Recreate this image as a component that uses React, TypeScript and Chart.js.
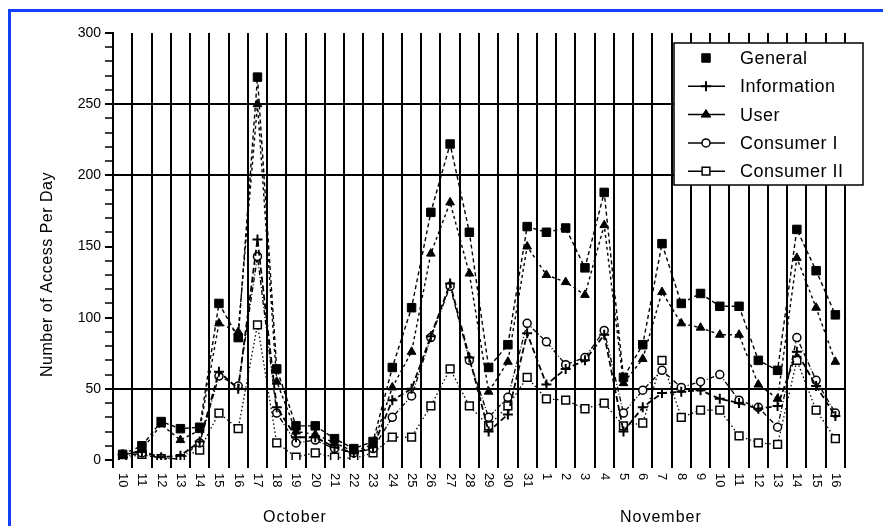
import React, { useEffect, useRef } from 'react';
import { Chart, registerables } from 'chart.js';

Chart.register(...registerables);

// ---------- data ----------
const octoberDays = ['10','11','12','13','14','15','16','17','18','19','20','21','22','23','24','25','26','27','28','29','30','31'];
const novemberDays = ['1','2','3','4','5','6','7','8','9','10','11','12','13','14','15','16'];
const categories = [...octoberDays, ...novemberDays];
const monthNames = ['October', 'November'];

const generalValues = [4,10,27,22,23,110,86,269,64,24,24,15,8,13,65,107,174,222,160,65,81,164, 160,163,135,188,58,81,152,110,117,108,108,70,63,162,133,102];
const informationValues = [4,6,2,3,13,62,50,155,37,16,16,9,5,9,42,50,87,124,72,20,32,89, 53,64,70,88,20,37,47,48,49,43,40,36,38,76,52,31];
const userValues = [3,7,25,14,21,96,90,250,55,20,18,12,6,11,51,76,145,181,131,48,69,150, 130,125,116,165,54,71,118,96,93,88,88,53,43,142,107,69];
const consumerIValues = [2,5,1,1,12,59,52,143,33,12,14,8,5,8,30,45,86,122,70,30,44,96, 83,67,72,91,33,49,63,51,55,60,42,37,23,86,56,33];
const consumerIIValues = [1,4,1,1,7,33,22,95,12,2,5,2,1,5,16,16,38,64,38,24,38,58, 43,42,36,40,24,26,70,30,35,35,17,12,11,70,35,15];

const seriesLabels = ['General', 'Information', 'User', 'Consumer I', 'Consumer II'];
const yTickLabels = [0, 50, 100, 150, 200, 250, 300];
const yMin = 0;
const yMax = 300;
const yMinorStep = 10;
const horizontalGridValues = [50, 200, 250];

const FONT = "'Liberation Sans', Arial, Helvetica, sans-serif";

type Marker = { style: string; radius: number; fill: string; width: number };

function drawMarker(ctx: CanvasRenderingContext2D, m: Marker, x: number, y: number) {
  ctx.save();
  ctx.setLineDash([]);
  ctx.strokeStyle = '#000';
  ctx.lineWidth = m.width;
  ctx.fillStyle = m.fill;
  ctx.beginPath();
  const r = m.radius;
  if (m.style === 'rect') {
    const s = r * Math.SQRT1_2;
    ctx.rect(x - s, y - s, 2 * s, 2 * s);
    ctx.fill();
    ctx.stroke();
  } else if (m.style === 'circle') {
    ctx.arc(x, y, r, 0, Math.PI * 2);
    ctx.fill();
    ctx.stroke();
  } else if (m.style === 'triangle') {
    const h = r * 1.5;
    ctx.moveTo(x, y - r);
    ctx.lineTo(x + r * 0.95, y + h - r);
    ctx.lineTo(x - r * 0.95, y + h - r);
    ctx.closePath();
    ctx.fill();
    ctx.stroke();
  } else if (m.style === 'cross') {
    ctx.moveTo(x - r, y);
    ctx.lineTo(x + r, y);
    ctx.moveTo(x, y - r);
    ctx.lineTo(x, y + r);
    ctx.stroke();
  }
  ctx.restore();
}

const decorPlugin = {
  id: 'decor',
  afterDraw(chart: any) {
    const { ctx, chartArea } = chart;
    const xs = chart.scales.x;
    ctx.save();
    ctx.fillStyle = '#000';

    // x tick labels, rotated to read top-to-bottom
    ctx.font = `13px ${FONT}`;
    ctx.textAlign = 'left';
    ctx.textBaseline = 'middle';
    categories.forEach((lab, i) => {
      const x = xs.getPixelForValue(i);
      ctx.save();
      ctx.translate(x, chartArea.bottom + 13);
      ctx.rotate(Math.PI / 2);
      ctx.fillText(lab, 0, 0);
      ctx.restore();
    });

    // month group labels
    const groups = [octoberDays, novemberDays];
    let start = 0;
    ctx.font = `16px ${FONT}`;
    (ctx as any).letterSpacing = '1px';
    ctx.textAlign = 'center';
    groups.forEach((g, gi) => {
      const a = xs.getPixelForValue(start);
      const b = xs.getPixelForValue(start + g.length - 1);
      ctx.fillText(monthNames[gi], (a + b) / 2 - 30, chartArea.bottom + 58);
      start += g.length;
    });

    // y axis title
    ctx.save();
    (ctx as any).letterSpacing = '0.5px';
    ctx.font = `16px ${FONT}`;
    ctx.translate(48, (chartArea.top + chartArea.bottom) / 2 + 28);
    ctx.rotate(-Math.PI / 2);
    ctx.textAlign = 'center';
    ctx.fillText('Number of Access Per Day', 0, 0);
    ctx.restore();

    // legend box
    const boxL = chartArea.right - 171;
    const boxT = chartArea.top + 10;
    const boxW = 189;
    const boxH = 142;
    ctx.fillStyle = '#fff';
    ctx.fillRect(boxL, boxT, boxW, boxH);
    ctx.strokeStyle = '#000';
    ctx.lineWidth = 1.5;
    ctx.setLineDash([]);
    ctx.strokeRect(boxL, boxT, boxW, boxH);

    ctx.font = `18px ${FONT}`;
    (ctx as any).letterSpacing = '0.5px';
    ctx.textAlign = 'left';
    ctx.textBaseline = 'middle';
    chart.data.datasets.forEach((ds: any, k: number) => {
      const y = boxT + 15 + k * 28.3;
      if (ds.legendLine) {
        ctx.beginPath();
        ctx.strokeStyle = '#000';
        ctx.lineWidth = 1.5;
        ctx.moveTo(boxL + 14, y);
        ctx.lineTo(boxL + 51, y);
        ctx.stroke();
      }
      drawMarker(ctx, { style: ds.pointStyle, radius: ds.pointRadius, fill: ds.pointBackgroundColor, width: ds.pointBorderWidth }, boxL + 32, y);
      ctx.fillStyle = '#000';
      ctx.fillText(ds.label, boxL + 66, y + 1);
    });

    ctx.restore();
  },
};

export default function App() {
  const canvasRef = useRef<HTMLCanvasElement | null>(null);

  useEffect(() => {
    document.body.style.margin = '0';
    const canvas = canvasRef.current;
    if (!canvas) return;
    Chart.defaults.font.family = FONT;

    const mk = (label: string, data: number[], style: string, radius: number, fill: string, dash: number[], lineWidth: number, pbw: number, legendLine: boolean) => ({
      label,
      data,
      borderColor: '#000',
      borderWidth: lineWidth,
      borderDash: dash,
      pointStyle: style,
      pointRadius: radius,
      pointBackgroundColor: fill,
      pointBorderColor: '#000',
      pointBorderWidth: pbw,
      fill: false,
      tension: 0,
      legendLine,
    });

    const chart = new Chart(canvas, {
      type: 'line',
      data: {
        labels: categories,
        datasets: [
          mk(seriesLabels[0], generalValues, 'rect', 6, '#000', [4, 3], 1.4, 1, false),
          mk(seriesLabels[1], informationValues, 'cross', 5, '#000', [6, 3], 1.8, 2, true),
          mk(seriesLabels[2], userValues, 'triangle', 5, '#000', [3, 3], 1.4, 1, true),
          mk(seriesLabels[3], consumerIValues, 'circle', 4, '#fff', [5, 2, 1, 2], 1.3, 1.5, true),
          mk(seriesLabels[4], consumerIIValues, 'rect', 5.5, '#fff', [1.5, 2.5], 1.3, 1.5, true),
        ] as any,
      },
      options: {
        responsive: false,
        animation: false,
        devicePixelRatio: 1,
        layout: { padding: { left: 0, right: 38, top: 33, bottom: 0 } },
        plugins: {
          legend: { display: false },
          tooltip: { enabled: false },
          title: { display: false },
        },
        scales: {
          x: {
            type: 'category',
            offset: true,
            grid: { offset: true, color: '#000', lineWidth: 2, tickLength: 8, drawTicks: true },
            ticks: { display: false, autoSkip: false },
            border: { display: false },
            afterFit: (s: any) => { s.height = 66; },
          },
          y: {
            min: yMin,
            max: yMax,
            ticks: {
              stepSize: yMinorStep,
              autoSkip: false,
              padding: 4,
              color: '#000',
              font: { family: FONT, size: 14 },
              callback: (v: any) => (yTickLabels.includes(Number(v)) ? String(v) : ''),
            },
            grid: {
              color: (c: any) => (c.tick && horizontalGridValues.includes(c.tick.value) ? '#000' : 'rgba(0,0,0,0)'),
              lineWidth: 2,
              tickColor: '#000',
              tickLength: 8,
              tickWidth: (c: any) => (c.tick && c.tick.value % 50 === 0 ? 2 : 1.5),
            },
            border: { display: true, color: '#000', width: 2 },
            afterFit: (s: any) => { s.width = 113; },
          },
        },
      } as any,
      plugins: [decorPlugin],
    });
    return () => chart.destroy();
  }, []);

  return (
    <div style={{ position: 'relative', width: 883, height: 526, overflow: 'hidden', background: '#fff' }}>
      <div
        style={{
          position: 'absolute',
          left: 8,
          top: 9,
          width: 2000,
          height: 2000,
          borderTop: '3px solid #1240ff',
          borderLeft: '3px solid #1240ff',
        }}
      />
      <canvas ref={canvasRef} width={883} height={526} style={{ position: 'absolute', left: 0, top: 0, width: 883, height: 526 }} />
    </div>
  );
}
